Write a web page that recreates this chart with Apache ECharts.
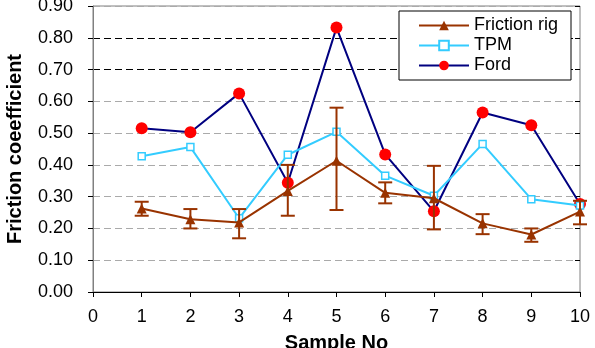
<!DOCTYPE html>
<html>
<head>
<meta charset="utf-8">
<script src="https://cdn.jsdelivr.net/npm/echarts@6/dist/echarts.min.js"></script>
<style>
html, body { margin: 0; padding: 0; background: #fff; }
#chart { width: 595px; height: 348px; }
</style>
</head>
<body>
<div id="chart"></div>
<script>
var samples = [1, 2, 3, 4, 5, 6, 7, 8, 9, 10];
var friction = [0.263, 0.229, 0.219, 0.318, 0.413, 0.312, 0.295, 0.216, 0.181, 0.253];
var frictionLow = [0.240, 0.200, 0.169, 0.240, 0.258, 0.279, 0.197, 0.182, 0.158, 0.213];
var frictionHigh = [0.284, 0.261, 0.261, 0.400, 0.580, 0.345, 0.397, 0.245, 0.200, 0.287];
var tpm = [0.427, 0.456, 0.232, 0.432, 0.504, 0.366, 0.303, 0.466, 0.292, 0.272];
var ford = [0.515, 0.503, 0.625, 0.344, 0.832, 0.433, 0.254, 0.565, 0.525, 0.277];

var font = 'Liberation Sans, Arial, sans-serif';

function pairs(vals) {
    return samples.map(function (s, i) { return [s, vals[i]]; });
}

var myChart = echarts.init(document.getElementById('chart'));
var option = {
    animation: false,
    textStyle: { fontFamily: font },
    grid: {
        left: 93, right: 15, top: 6, bottom: 56,
        outerBoundsMode: 'none',
        containLabel: false,
        show: true,
        borderColor: '#808080',
        borderWidth: 1
    },
    legend: {
        orient: 'vertical',
        left: 399, top: 11,
        padding: [5, 13, 5, 19],
        itemWidth: 50, itemHeight: 12, itemGap: 1,
        borderColor: '#000', borderWidth: 1,
        backgroundColor: '#fff',
        borderRadius: 0,
        textStyle: { fontSize: 18, lineHeight: 19, color: '#000', fontFamily: font },
        data: ['Friction rig', 'TPM', 'Ford']
    },
    xAxis: {
        type: 'value',
        min: 0, max: 10, interval: 1,
        name: 'Sample No',
        nameLocation: 'middle',
        nameGap: 41,
        nameTextStyle: { fontSize: 20, fontWeight: 'bold', color: '#000', fontFamily: font },
        axisLine: { lineStyle: { color: '#000', width: 1 } },
        axisTick: { show: true, length: 5, lineStyle: { color: '#000' } },
        axisLabel: { margin: 16, fontSize: 18, color: '#000', fontFamily: font },
        splitLine: { show: false }
    },
    yAxis: [
        {
            type: 'value',
            min: 0, max: 0.9, interval: 0.1,
            name: 'Friction coeefficient',
            nameLocation: 'middle',
            nameGap: 68,
            nameTextStyle: { fontSize: 20, fontWeight: 'bold', color: '#000', fontFamily: font },
            axisLine: { show: true, lineStyle: { color: '#808080', width: 1 } },
            axisTick: { show: true, length: 5, lineStyle: { color: '#000' } },
            axisLabel: {
                margin: 20, fontSize: 18, color: '#000', fontFamily: font,
                formatter: function (v) { return v.toFixed(2); }
            },
            splitLine: {
                show: true,
                lineStyle: {
                    type: [7, 4],
                    color: ['#aaaaaa', '#aaaaaa', '#aaaaaa', '#aaaaaa', '#aaaaaa', '#aaaaaa', '#aaaaaa', '#000000', '#000000', '#aaaaaa']
                }
            }
        },
        {
            type: 'value',
            position: 'right',
            min: 0, max: 0.9, interval: 0.1,
            axisLine: { show: false },
            axisTick: { show: true, inside: true, length: 5, lineStyle: { color: '#000' } },
            axisLabel: { show: false },
            splitLine: { show: false }
        }
    ],
    series: [
        {
            name: 'Friction rig',
            type: 'line',
            data: pairs(friction),
            symbol: 'triangle',
            symbolSize: 10,
            z: 5,
            lineStyle: { color: '#993300', width: 2 },
            itemStyle: { color: '#993300' }
        },
        {
            name: 'Friction rig',
            type: 'custom',
            z: 4,
            data: samples.map(function (s, i) { return [s, frictionLow[i], frictionHigh[i]]; }),
            renderItem: function (params, api) {
                var lo = api.coord([api.value(0), api.value(1)]);
                var hi = api.coord([api.value(0), api.value(2)]);
                var w = 7;
                var style = { stroke: '#993300', lineWidth: 2 };
                return {
                    type: 'group',
                    children: [
                        { type: 'line', shape: { x1: lo[0], y1: lo[1], x2: hi[0], y2: hi[1] }, style: style },
                        { type: 'line', shape: { x1: lo[0] - w, y1: lo[1], x2: lo[0] + w, y2: lo[1] }, style: style },
                        { type: 'line', shape: { x1: hi[0] - w, y1: hi[1], x2: hi[0] + w, y2: hi[1] }, style: style }
                    ]
                };
            }
        },
        {
            name: 'TPM',
            type: 'line',
            data: pairs(tpm),
            symbol: 'rect',
            symbolSize: 7,
            showAllSymbol: true,
            z: 3,
            lineStyle: { color: '#33ccff', width: 2 },
            itemStyle: { color: '#ffffff', borderColor: '#33ccff', borderWidth: 1.5 }
        },
        {
            name: 'Ford',
            type: 'line',
            data: pairs(ford),
            symbol: 'circle',
            symbolSize: 12,
            z: 2,
            lineStyle: { color: '#000080', width: 2 },
            itemStyle: { color: '#ff0000' }
        }
    ]
};
myChart.setOption(option);
</script>
</body>
</html>
